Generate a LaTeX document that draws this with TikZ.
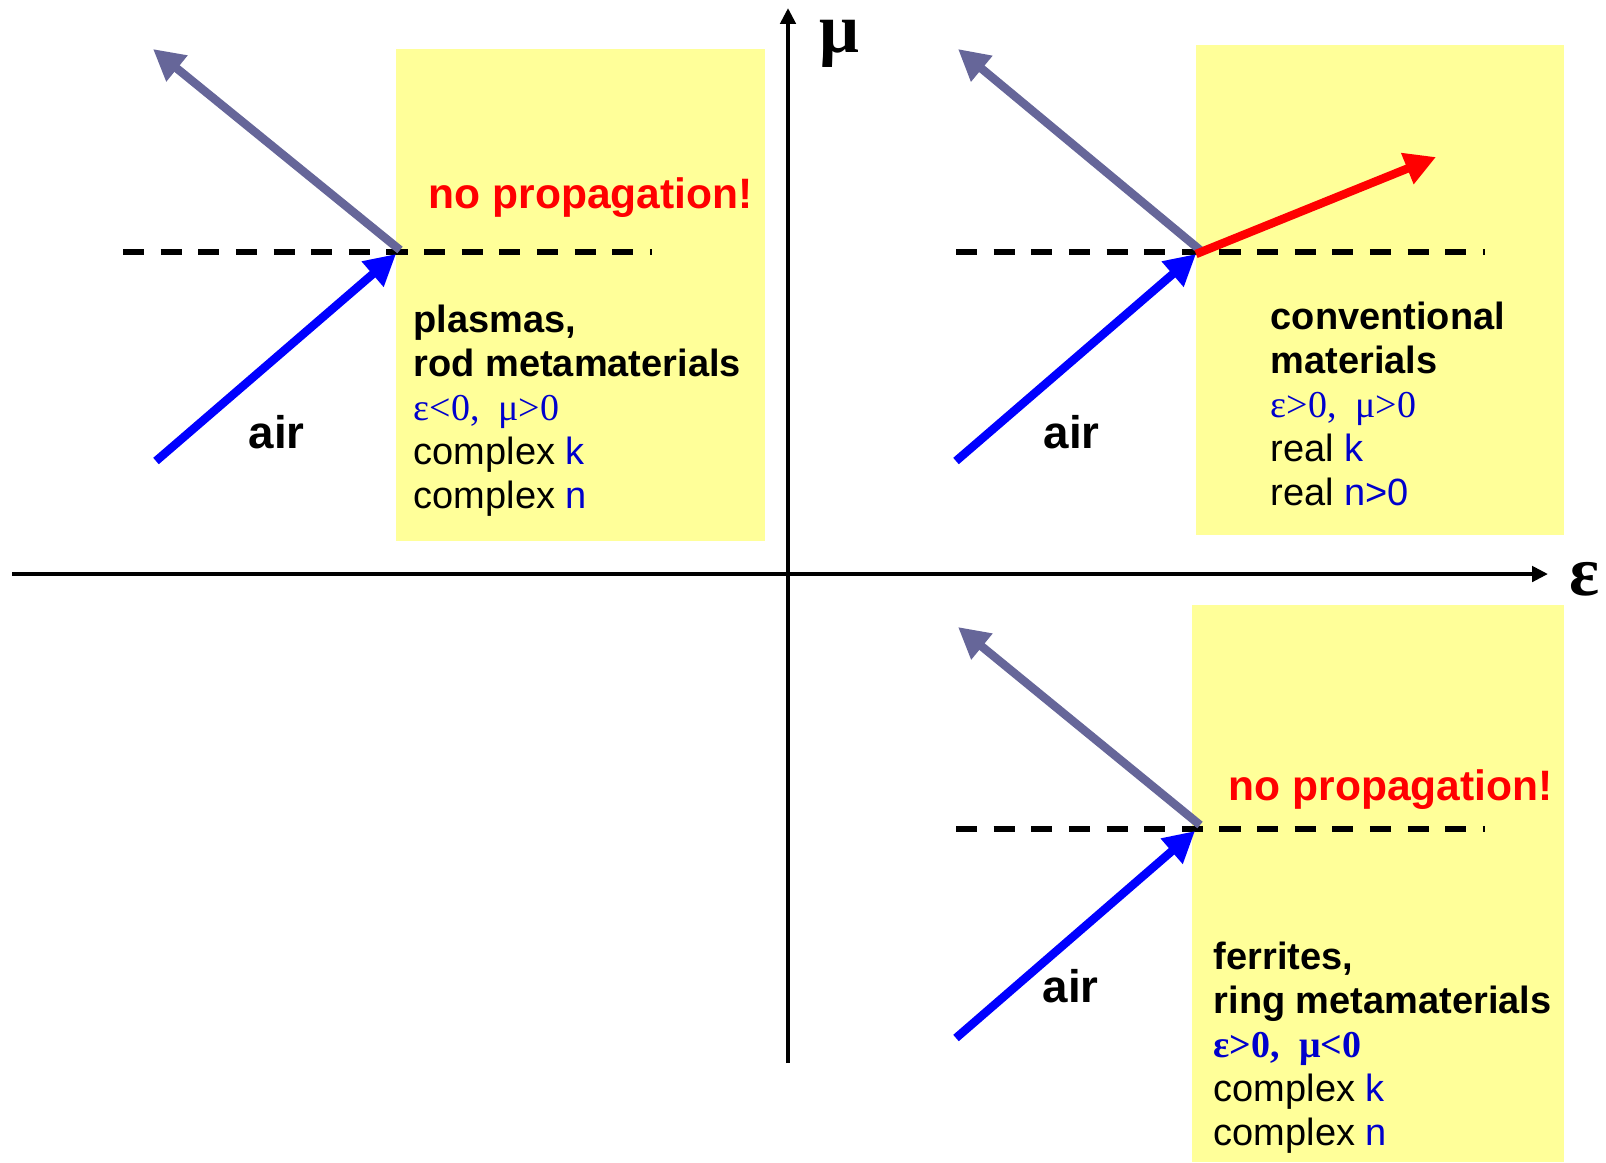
\documentclass[tikz,border=0pt]{standalone}
\usepackage{fontspec}
\setmainfont{Liberation Sans}
\newfontfamily\greekfont{Liberation Serif}
\usetikzlibrary{arrows.meta}
\definecolor{reflgray}{RGB}{102,102,153}
\definecolor{paleyellow}{RGB}{255,255,153}
\definecolor{textblue}{RGB}{0,0,204}
\newcommand{\blu}[1]{{\color{textblue}#1}}

\begin{document}
\begin{tikzpicture}[x=0.01cm,y=-0.01cm,
  axis/.style={line width=1.2pt,-{Triangle[length=4.5pt,width=4.3pt]}},
  ray/.style={line width=2.4pt,-{Triangle[length=8.8pt,width=9pt]}},
  surface/.style={line width=1.6pt,dash pattern=on 6pt off 4.7pt},
  medium/.style={fill=paleyellow},
  info/.style={anchor=base west,inner sep=0pt,align=left,font=\fontsize{10.8}{12.5}\selectfont},
  warn/.style={anchor=base west,inner sep=0pt,text=red,font=\fontsize{12.1}{14}\selectfont\bfseries},
  airlabel/.style={anchor=base west,inner sep=0pt,font=\fontsize{13}{15}\selectfont\bfseries},
  axislabel/.style={anchor=base,inner sep=0pt,text height=0.5em,font=\fontsize{20}{24}\selectfont\greekfont\bfseries}
]
  \useasboundingbox (0,0) rectangle (1606,1162);
  \fill[medium] (396,49) rectangle (765,541);
  \fill[medium] (1196,45) rectangle (1564,535);
  \fill[medium] (1192,605) rectangle (1564,1162);

  % axes
  \coordinate (epsL) at (12,574);
  \coordinate (epsR) at (1548,574);
  \coordinate (muB) at (788,1063);
  \coordinate (muT) at (788,8);
  \draw[axis] (epsL) -- (epsR);
  \draw[axis] (muB) -- (muT);
  \node[axislabel] (mu) at (839,52) {μ};
  \node[axislabel] (eps) at (1585,595) {ε};

  % eps<0, mu>0
  \coordinate (srcA) at (156,461);
  \coordinate (hitA) at (396,254);
  \coordinate (outA) at (400,250);
  \coordinate (refA) at (153,49);
  \coordinate (surfAl) at (123,252);
  \coordinate (surfAr) at (652,252);
  \draw[surface] (surfAl) -- (surfAr);
  \draw[ray,reflgray] (outA) -- (refA);
  \draw[ray,blue] (srcA) -- (hitA);
  \node[warn] (warnA) at (428,208) {no propagation!};
  \node[airlabel] (airA) at (248,448) {air};
  \node[info] (infoA) at (413,508) {\textbf{plasmas,}\\\textbf{rod metamaterials}\\
    {\greekfont\blu{ε<0,~~μ>0}}\\complex \blu{k}\\complex \blu{n}};

  % eps>0, mu>0
  \coordinate (srcB) at (956,461);
  \coordinate (hitB) at (1196,254);
  \coordinate (outB) at (1200,250);
  \coordinate (refB) at (958,49);
  \coordinate (traB) at (1436,157);
  \coordinate (surfBl) at (956,252);
  \coordinate (surfBr) at (1485,252);
  \draw[surface] (surfBl) -- (surfBr);
  \draw[ray,reflgray] (outB) -- (refB);
  \draw[ray,blue] (srcB) -- (hitB);
  \draw[ray,red] (hitB) -- (traB);
  \node[airlabel] (airB) at (1043,448) {air};
  \node[info] (infoB) at (1270,505) {\textbf{conventional}\\\textbf{materials}\\
    {\greekfont\blu{ε>0,~~μ>0}}\\real \blu{k}\\real \blu{n>0}};

  % eps>0, mu<0
  \coordinate (srcC) at (956,1038);
  \coordinate (hitC) at (1195,831);
  \coordinate (outC) at (1200,825);
  \coordinate (refC) at (958,627);
  \coordinate (surfCl) at (956,829);
  \coordinate (surfCr) at (1485,829);
  \draw[surface] (surfCl) -- (surfCr);
  \draw[ray,reflgray] (outC) -- (refC);
  \draw[ray,blue] (srcC) -- (hitC);
  \node[warn] (warnC) at (1228,800) {no propagation!};
  \node[airlabel] (airC) at (1042,1002) {air};
  \node[info] (infoC) at (1213,1145) {\textbf{ferrites,}\\\textbf{ring metamaterials}\\
    {\greekfont\bfseries\blu{ε>0,~~μ<0}}\\complex \blu{k}\\complex \blu{n}};
\end{tikzpicture}
\end{document}
